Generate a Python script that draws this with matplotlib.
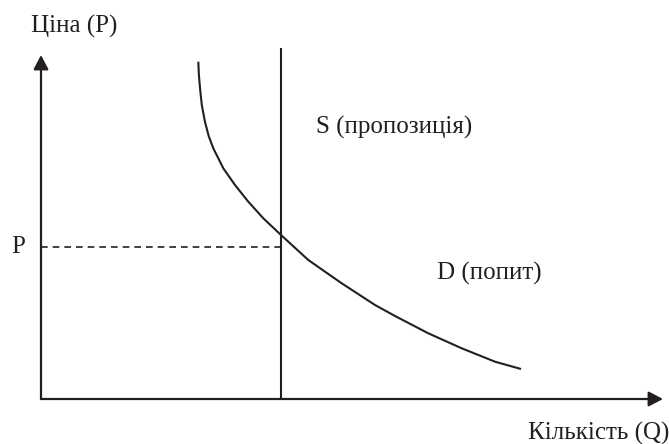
import matplotlib
matplotlib.use("Agg")
import matplotlib.pyplot as plt

# Data (axis units: origin at the axes corner)
demand_q = [157.3, 157.9, 159, 160.8, 164, 167.7, 172.3, 182.3, 194, 207.3,
            222.3, 240, 267.3, 300.7, 334, 354, 387.3, 420.7, 454, 480]
demand_p = [337.3, 324, 311, 294, 277, 263, 250.7, 230.7, 214, 197.3,
            180.7, 164, 139, 115.7, 94, 83, 65.7, 50.7, 37.3, 30]
supply_q = 240
supply_p_top = 351
price_level = 152
q_axis_max = 622
p_axis_max = 344

labels = {
    "price": "Ціна (P)",
    "quantity": "Кількість (Q)",
    "p": "P",
    "supply": "S (пропозиція)",
    "demand": "D (попит)",
}

ink = "#231f20"
plt.rcParams["font.family"] = ["Liberation Serif", "DejaVu Serif"]

fig = plt.figure(figsize=(6.69, 4.44), dpi=100)
ax = fig.add_axes([0, 0, 1, 1])
ax.set_xlim(-41, 628)
ax.set_ylim(-45, 399)
ax.axis("off")

arrow = dict(arrowstyle="-|>,head_length=0.86,head_width=0.45", color=ink,
             lw=1.6, shrinkA=0, shrinkB=0, mutation_scale=10)
ax.annotate("", xy=(0, p_axis_max), xytext=(0, 0), arrowprops=arrow)
ax.annotate("", xy=(q_axis_max, 0), xytext=(0, 0), arrowprops=arrow)

# supply line
ax.plot([supply_q, supply_q], [0, supply_p_top], color=ink, lw=1.5,
        solid_capstyle="butt")
# demand curve
ax.plot(demand_q, demand_p, color=ink, lw=1.5, solid_joinstyle="round",
        solid_capstyle="butt")
# price dashed line
ax.plot([0, supply_q], [price_level, price_level], color=ink, lw=1.2,
        dashes=(4, 3))

fs = 18
ax.text(-10, 373, labels["price"], fontsize=fs, color=ink, ha="left", va="center")
ax.text(628, -34, labels["quantity"], fontsize=fs, color=ink, ha="right",
        va="center")
ax.text(-23, 152, labels["p"], fontsize=fs, color=ink, ha="center", va="center")
ax.text(275, 272, labels["supply"], fontsize=fs, color=ink, ha="left", va="center")
ax.text(396, 126, labels["demand"], fontsize=fs, color=ink, ha="left", va="center")

fig.savefig("out.png", dpi=100)
